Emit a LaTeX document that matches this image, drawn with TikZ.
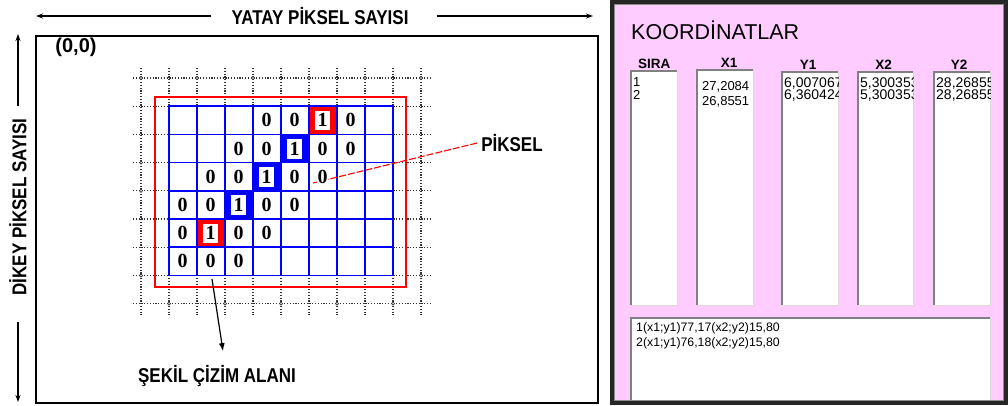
\documentclass[tikz,border=0pt]{standalone}
\usepackage{fontspec}
\usepackage{xcolor}
\usetikzlibrary{arrows.meta,positioning}
\newfontfamily\narrowfont[FakeStretch=0.85]{Liberation Sans}
\newfontfamily\panelfont{Liberation Sans}
\newfontfamily\digitfont{Liberation Serif}
\definecolor{panelpink}{RGB}{255,204,255}
\definecolor{pixblue}{RGB}{0,0,255}
\definecolor{pixred}{RGB}{255,0,0}
\definecolor{bevdark}{RGB}{128,128,128}
\definecolor{bevlight}{RGB}{220,218,212}

% text of one list box, cut at its edges
\newcommand{\boxlines}[5]{%
  \begin{scope}
    \clip (#1.north west) rectangle (#1.south east);
    \node[boxtext,font={#3}] (#2) at ([xshift=#4]#1.north west) {#5};
  \end{scope}}

\begin{document}
\begin{tikzpicture}[x=1pt,y=-1pt,
    axislbl/.style={font=\narrowfont\bfseries\fontsize{20}{22}\selectfont,inner sep=0pt},
    axisline/.style={line width=1.2pt,-{Stealth[length=7pt,width=5pt]}},
    dotline/.style={line width=1.3pt,black!80,dash pattern=on 1.2pt off 1.6pt},
    dotmark/.style={draw=black!80,line width=0.7pt,fill=white},
    pixgrid/.style={pixblue,line width=1.6pt,line cap=rect},
    pixdigit/.style={font=\digitfont\bfseries\fontsize{20}{20}\selectfont,inner sep=0.5pt,fill=white},
    listbox/.style={fill=white,anchor=north west,inner sep=0pt},
    boxhead/.style={font=\panelfont\bfseries\fontsize{13.5}{14}\selectfont,inner sep=0pt},
    boxtext/.style={anchor=north west,align=left,inner sep=0pt},
  ]
  \useasboundingbox (0,0) rectangle (1008,405);

  % left panel
  \draw[line width=1.6pt] (36,36) rectangle (598,403);
  \node[axislbl] (yatay) at (320,16) {YATAY PİKSEL SAYISI};
  \coordinate (yatayL) at (36,16);
  \coordinate (yatayR) at (593,16);
  \draw[axisline] ([xshift=-20pt]yatay.west) -- (yatayL);
  \draw[axisline] ([xshift=28pt]yatay.east) -- (yatayR);

  \node[axislbl,rotate=90] (dikey) at (18,207) {DİKEY PİKSEL SAYISI};
  \coordinate (dikeyT) at (18,34);
  \coordinate (dikeyB) at (18,402);
  \draw[axisline] ([yshift=12pt]dikey.east) -- (dikeyT);
  \draw[axisline] ([yshift=-26pt]dikey.west) -- (dikeyB);

  \node[font=\panelfont\bfseries\fontsize{20}{22}\selectfont,inner sep=0pt] (origin) at (76,47) {(0,0)};

  % dotted screen grid
  \foreach \i in {0,...,10}
    \draw[dotline] ({141+28*\i},68) -- ({141+28*\i},315);
  \foreach \j in {0,...,8}
    \draw[dotline] (133,{78+28.2*\j}) -- (430,{78+28.2*\j});
  \foreach \i in {0,2,...,10}
    \draw[dotmark] ({141+28*\i},78) circle (1.6);
  \foreach \i in {1,3,...,9}
    \draw[dotmark] ({141+28*\i},303.6) circle (1.6);
  \foreach \j in {3,4,7}
    \draw[dotmark] (141,{78+28.2*\j}) circle (1.6);
  \draw[dotmark] (421,275.4) circle (1.6);

  \draw[pixred,line width=1.8pt] (155,97) rectangle (406,287);

  % pixel cells
  \fill[white] (169,106.2) rectangle (393,275.4);
  \foreach \c/\r/\col in {5/0/pixred,4/1/pixblue,3/2/pixblue,2/3/pixblue,1/4/pixred} {
    \fill[\col] ({169+28*\c},{106.2+28.2*\r}) rectangle ++(28,28.2);
    \fill[white] ({169+28*\c+6},{106.2+28.2*\r+4.5}) rectangle ++(15,19.7);
  }
  \foreach \i in {0,...,8}
    \draw[pixgrid] ({169+28*\i},106.2) -- ({169+28*\i},275.4);
  \foreach \j in {0,...,6}
    \draw[pixgrid] (169,{106.2+28.2*\j}) -- (393,{106.2+28.2*\j});

  \node[axislbl] (piksel) at (512,143) {PİKSEL};
  \coordinate (pixend) at (313,183);
  \draw[pixred,line width=1.1pt,dash pattern=on 7pt off 2pt] ([xshift=-4pt]piksel.west) -- (pixend);

  \foreach \r/\c/\v in {0/3/0,0/4/0,0/5/1,0/6/0,
      1/2/0,1/3/0,1/4/1,1/5/0,1/6/0,
      2/1/0,2/2/0,2/3/1,2/4/0,2/5/0,
      3/0/0,3/1/0,3/2/1,3/3/0,3/4/0,
      4/0/0,4/1/1,4/2/0,4/3/0,
      5/0/0,5/1/0,5/2/0}
    \node[pixdigit] (d\r\c) at ({182.5+28*\c},{120.3+28.2*\r}) {\v};

  \node[axislbl] (sekil) at (217,376) {ŞEKİL ÇİZİM ALANI};
  \coordinate (alan) at (212,279);
  \draw[line width=1.2pt,-{Latex[length=8pt,width=6pt]}] (alan) -- ([xshift=6pt,yshift=14pt]sekil.north);

  % right panel
  \fill[panelpink] (610,0) rectangle (1008,405);
  \node[anchor=west,inner sep=0pt,font=\panelfont\fontsize{21.5}{24}\selectfont] (koord) at (631,30) {KOORDİNATLAR};
  \node[listbox,minimum width=46pt,minimum height=234pt] (sira) at (631,71) {};
  \node[listbox,minimum width=56pt,minimum height=235pt] (xa) at (697,70) {};
  \node[listbox,minimum width=56pt,minimum height=233pt] (ya) at (782,72) {};
  \node[listbox,minimum width=55pt,minimum height=233pt] (xb) at (858,72) {};
  \node[listbox,minimum width=56pt,minimum height=233pt] (yb) at (934,72) {};
  \node[listbox,minimum width=359pt,minimum height=86pt] (msg) at (631,318) {};
  \node[boxhead,above=2.5pt of sira] (hsira) {SIRA};
  \node[boxhead,above=2.5pt of xa,xshift=4pt] (hxa) {X1};
  \node[boxhead,above=2.5pt of ya,xshift=-2pt] (hya) {Y1};
  \node[boxhead,above=2.5pt of xb,xshift=-2pt] (hxb) {X2};
  \node[boxhead,above=2.5pt of yb,xshift=-3pt] (hyb) {Y2};
  \foreach \b in {sira,xa,ya,xb,yb,msg} {
    \draw[bevdark,line width=1.5pt] (\b.south west) |- (\b.north east);
    \draw[bevlight,line width=1.5pt] (\b.south west) -| (\b.north east);
  }

  \boxlines{sira}{tsira}{\panelfont\fontsize{13}{13}\selectfont}{2pt,yshift=-6pt}{1\\2}
  \boxlines{xa}{txa}{\panelfont\fontsize{13}{15}\selectfont}{5pt,yshift=-11pt}{27,2084\\26,8551}
  \boxlines{ya}{tya}{\panelfont\fontsize{14}{12}\selectfont}{2pt,yshift=-6pt}{6,007067\\6,360424}
  \boxlines{xb}{txb}{\panelfont\fontsize{14}{12}\selectfont}{2pt,yshift=-6pt}{5,300353\\5,300353}
  \boxlines{yb}{tyb}{\panelfont\fontsize{14}{12}\selectfont}{2pt,yshift=-6pt}{28,26855\\28,26855}
  \boxlines{msg}{tmsg}{\panelfont\fontsize{12.3}{15}\selectfont}{5pt,yshift=-4pt}{1(x1;y1)77,17(x2;y2)15,80\\2(x1;y1)76,18(x2;y2)15,80}

  \draw[black!85,line width=4pt] (612,2) rectangle (1006,403);
  \draw[black!45,line width=1pt] (614.5,4.5) rectangle (1003.5,400.5);
\end{tikzpicture}
\end{document}
